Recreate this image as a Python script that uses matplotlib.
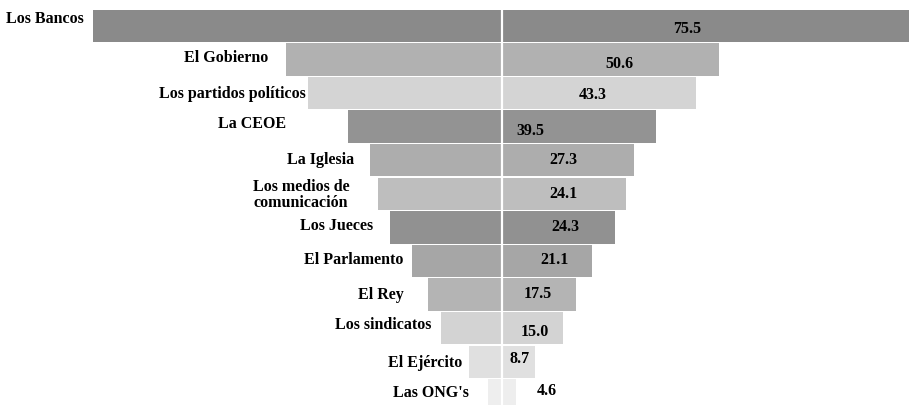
import matplotlib
import matplotlib.pyplot as plt

matplotlib.use("Agg")

categories = [
    "Los Bancos", "El Gobierno", "Los partidos políticos", "La CEOE",
    "La Iglesia", "Los medios de\ncomunicación", "Los Jueces", "El Parlamento",
    "El Rey", "Los sindicatos", "El Ejército", "Las ONG's",
]
values = [75.5, 50.6, 43.3, 39.5, 27.3, 24.1, 24.3, 21.1, 17.5, 15.0, 8.7, 4.6]
# funnel widths as drawn in the source (not proportional to the values)
funnel_width = [818, 433, 388, 308, 264, 248, 225, 180, 148, 122, 66, 28]

colors = ["#8a8a8a", "#b1b1b1", "#d4d4d4", "#939393", "#adadad", "#bebebe",
          "#919191", "#a6a6a6", "#b4b4b4", "#d3d3d3", "#e0e0e0", "#eeeeee"]

# label / value text positions in pixels (x center, y center)
label_pos = [(45, 19), (226, 58), (232, 94), (252, 124), (321, 160), (301, 195),
             (337, 226), (354, 260), (381, 295), (383, 325), (425, 363), (431, 393)]
value_pos = [(687, 29), (619, 64), (593, 95), (530, 131), (563, 160), (563, 194),
             (565, 227), (555, 260), (538, 294), (535, 332), (520, 359), (547, 391)]

W, H = 909, 406
CX = 502
TOP, ROW = 10, 33.6


def py_to_row(py):
    return (py - TOP) / ROW - 0.5


fig = plt.figure(figsize=(W / 100, H / 100), dpi=100)
ax = fig.add_axes([0, 0, 1, 1])
ax.set_xlim(-CX, W - CX)
ax.set_ylim(py_to_row(H), py_to_row(0))
ax.axis("off")

rows = list(range(len(categories)))
ax.barh(rows, funnel_width, left=[-w / 2 for w in funnel_width],
        height=0.96, color=colors, edgecolor="none")
ax.axvline(0, color="white", lw=1.6)

font = dict(family="Liberation Serif", fontweight="bold", fontsize=11.5)
for name, (x, y) in zip(categories, label_pos):
    ax.text(x - CX, py_to_row(y), name, ha="center", va="center",
            multialignment="center", linespacing=1.0, **font)
for v, (x, y) in zip(values, value_pos):
    ax.text(x - CX, py_to_row(y), f"{v:.1f}", ha="center", va="center", **font)

fig.savefig("out.png", dpi=100)
